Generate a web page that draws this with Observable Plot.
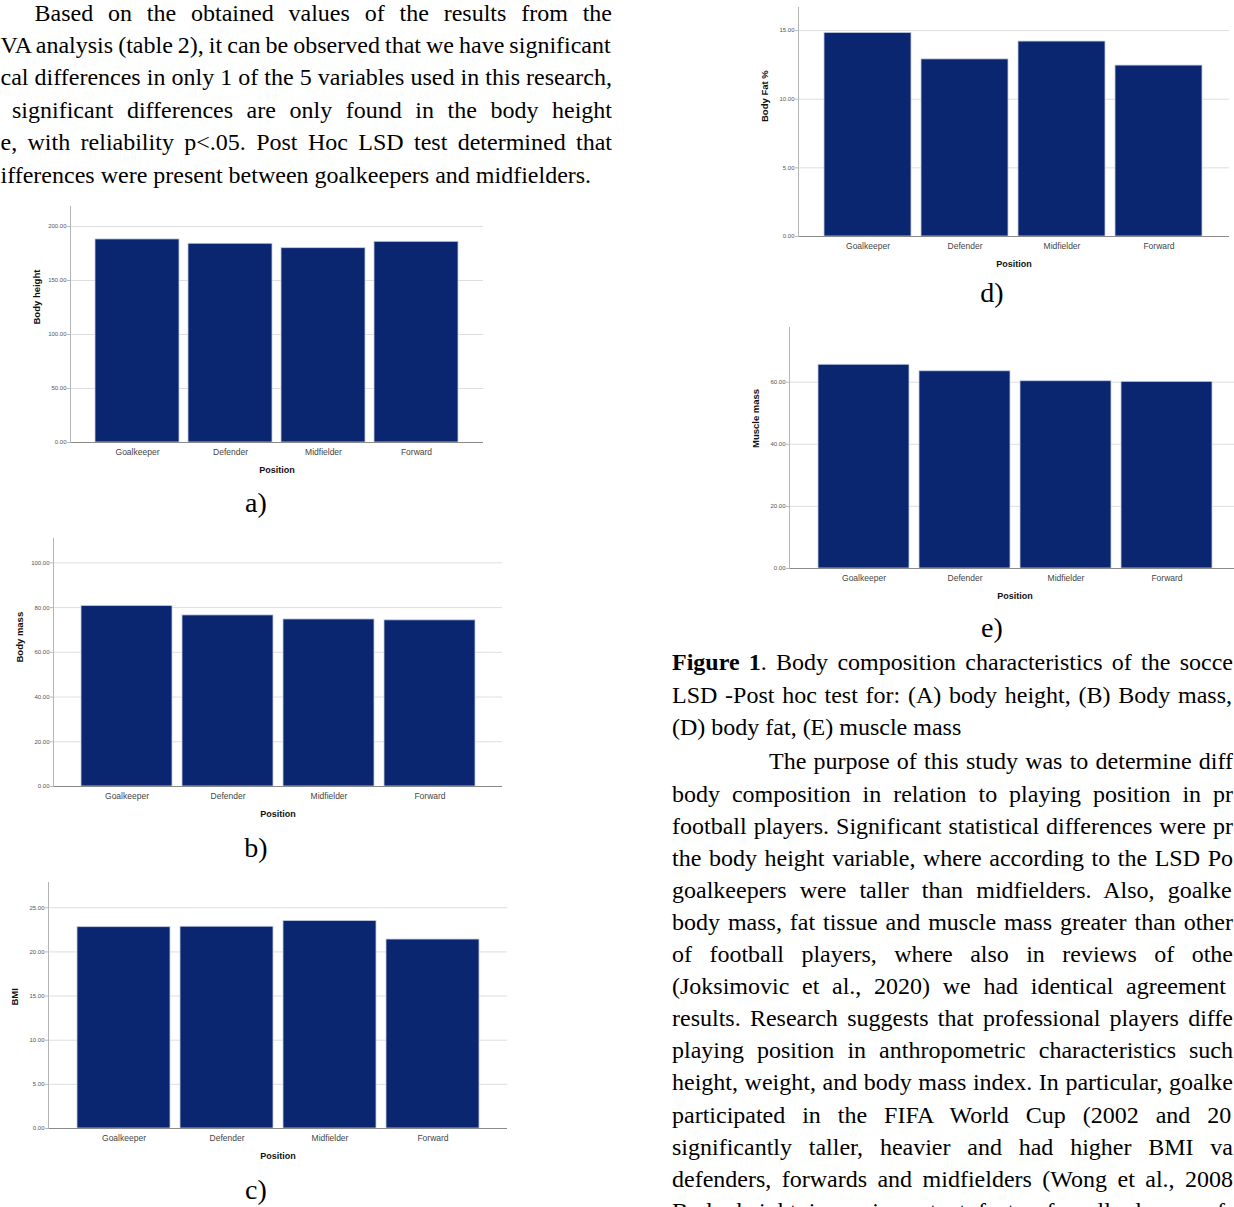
<!DOCTYPE html>
<html><head><meta charset="utf-8">
<script src="https://cdn.jsdelivr.net/npm/d3@7"></script>
<script src="https://cdn.jsdelivr.net/npm/@observablehq/plot@0.6"></script>
<style>
html,body{margin:0;padding:0;background:#fff;}
body{width:1234px;height:1207px;overflow:hidden;position:relative;}
</style></head><body>
<script>
// ---- data ----
const positions = ["Goalkeeper", "Defender", "Midfielder", "Forward"];
const bodyHeight = [188.0, 184.0, 179.9, 185.8];
const bodyMass = [80.7, 76.5, 74.7, 74.3];
const bmi = [22.8, 22.85, 23.5, 21.4];
const bodyFat = [14.83, 12.9, 14.2, 12.45];
const muscleMass = [65.6, 63.5, 60.3, 60.1];
const heightTicks = [0, 50, 100, 150, 200];
const massTicks = [0, 20, 40, 60, 80, 100];
const bmiTicks = [0, 5, 10, 15, 20, 25];
const fatTicks = [0, 5, 10, 15];
const muscleTicks = [0, 20, 40, 60];
const yLabels = ["Body height", "Body mass", "BMI", "Body Fat %", "Muscle mass"];
const xLabel = "Position";
const panelLabels = ["a)", "b)", "c)", "d)", "e)"];

// ---- document text (visible part of the page scan) ----
const serif = "'Liberation Serif', 'Times New Roman', serif";
const FS = 24;
const ctx = document.createElement("canvas").getContext("2d");
function tw(str, bold) { ctx.font = (bold ? "bold " : "") + FS + "px 'Liberation Serif'"; return ctx.measureText(str).width; }
function spaces(s) { return (s.match(/ /g) || []).length; }

const docSvg = d3.select("body").append("svg")
  .attr("width", 1234).attr("height", 1207)
  .style("position", "absolute").style("left", "0px").style("top", "0px");

function drawLine(spec) {
  const vis = spec.parts.map(p => p[0]).join("");
  const natural = spec.parts.reduce((a, p) => a + tw(p[0], p[1]), 0);
  let ws = 0;
  if (spec.end != null) ws = (spec.end - spec.x - natural) / spaces(vis);
  else if (spec.ws != null) ws = spec.ws;
  const t = docSvg.append("text").attr("x", spec.x).attr("y", spec.y)
    .style("font-family", serif).style("font-size", FS + "px").style("word-spacing", ws + "px")
    .attr("fill", "#000");
  spec.parts.forEach(p => {
    t.append("tspan").text(p[0]).style("font-weight", p[1] ? "bold" : "normal");
  });
}

const leftLines = [
  {x: 34.5, parts: [["Based on the obtained values of the results from the"]], end: 612},
  {x: 0.5, parts: [["VA analysis (table 2), it can be observed that we have significant"]], end: 612},
  {x: 0.5, parts: [["cal differences in only 1 of the 5 variables used in this research,"]], end: 612},
  {x: 12, parts: [["significant differences are only found in the body height"]], end: 612},
  {x: 0.5, parts: [["e, with reliability p<.05. Post Hoc LSD test determined that"]], end: 612},
  {x: 0.5, parts: [["ifferences were present between goalkeepers and midfielders."]], ws: 0}
];
leftLines.forEach((l, i) => drawLine({...l, y: 20.6 + i * 32.4}));

const capLines = [
  {parts: [["Figure 1", true], [". Body composition characteristics of the socce"]], end: 1233},
  {parts: [["LSD -Post hoc test for: (A) body height, (B) Body mass,"]], end: 1232},
  {parts: [["(D) body fat, (E) muscle mass"]], ws: 0}
];
capLines.forEach((l, i) => drawLine({...l, x: 672, y: 670.1 + i * 32.4}));

const bodyLines = [
  {x: 769, parts: [["The purpose of this study was to determine diff"]], end: 1233},
  {parts: [["body composition in relation to playing position in pr"]], end: 1233},
  {parts: [["football players. Significant statistical differences were pr"]], end: 1233},
  {parts: [["the body height variable, where according to the LSD Po"]], end: 1233},
  {parts: [["goalkeepers were taller than midfielders. Also, goalke"]], end: 1233},
  {parts: [["body mass, fat tissue and muscle mass greater than other"]], end: 1233},
  {parts: [["of football players, where also in reviews of othe"]], end: 1233},
  {parts: [["(Joksimovic et al., 2020) we had identical agreement"]], end: 1226},
  {parts: [["results. Research suggests that professional players diffe"]], end: 1233},
  {parts: [["playing position in anthropometric characteristics such"]], end: 1233},
  {parts: [["height, weight, and body mass index. In particular, goalke"]], end: 1233},
  {parts: [["participated in the FIFA World Cup (2002 and 20"]], end: 1233},
  {parts: [["significantly taller, heavier and had higher BMI va"]], end: 1233},
  {parts: [["defenders, forwards and midfielders (Wong et al., 2008"]], end: 1233},
  {parts: [["Body height is an important factor for all players of"]], end: 1225}
];
bodyLines.forEach((l, i) => drawLine({x: 672, ...l, y: 769.4 + i * 32.1}));

// panel labels
const labelPos = [[256, 512], [256, 857], [256, 1199], [992, 302], [992, 637]];
panelLabels.forEach((lab, i) => {
  docSvg.append("text").attr("x", labelPos[i][0]).attr("y", labelPos[i][1])
    .attr("text-anchor", "middle").style("font-family", serif).style("font-size", "28px").text(lab);
});

// ---- charts ----
const series = [bodyHeight, bodyMass, bmi, bodyFat, muscleMass];
const tickSets = [heightTicks, massTicks, bmiTicks, fatTicks, muscleTicks];
const frames = [
  {L: 70, R: 483, T: 206, B: 442, ymax: 218.5},
  {L: 53, R: 502, T: 538, B: 786, ymax: 110.9},
  {L: 48, R: 507, T: 882, B: 1128, ymax: 27.86},
  {L: 798, R: 1229, T: 7, B: 236, ymax: 16.68},
  {L: 789, R: 1240, T: 327, B: 568, ymax: 77.6}
];

frames.forEach((f, k) => {
  const data = positions.map((p, i) => ({position: p, value: series[k][i]}));
  const mL = 60, mR = 10, mT = 10, mB = 40;
  const W = f.R - f.L + mL + mR, H = f.B - f.T + mT + mB;
  const svg = Plot.plot({
    width: W, height: H,
    marginLeft: mL, marginRight: mR, marginTop: mT, marginBottom: mB,
    style: {fontFamily: "'Liberation Sans', Arial, sans-serif", background: "transparent", overflow: "visible"},
    x: {domain: positions, paddingInner: 0.1, paddingOuter: 0.27, label: null},
    y: {domain: [0, f.ymax], label: null},
    marks: [
      Plot.gridY(tickSets[k], {stroke: "#dedede", strokeOpacity: 1}),
      Plot.barY(data, {x: "position", y: "value", fill: "#0a2671", stroke: "#c5cde4", strokeWidth: 0.8}),
      Plot.ruleY([0], {stroke: "#8a8a8a", strokeWidth: 1}),
      Plot.frame({anchor: "left", stroke: "#b5b5b5"}),
      Plot.axisY(tickSets[k], {tickFormat: d3.format(".2f"), tickSize: 3, tickPadding: 1, fontSize: 6, fill: "#555", stroke: "#bbb", label: null}),
      Plot.axisX({tickSize: 0, tickPadding: 6, fontSize: 8.5, fill: "#444", label: null}),
      Plot.text([yLabels[k]], {frameAnchor: "left", dx: -34, rotate: -90, fontWeight: "bold", fontSize: 9.5, fill: "#111"}),
      Plot.text([xLabel], {frameAnchor: "bottom", dy: 30, fontWeight: "bold", fontSize: 9, fill: "#111"})
    ]
  });
  svg.style.position = "absolute";
  svg.style.left = (f.L - mL) + "px";
  svg.style.top = (f.T - mT) + "px";
  document.body.appendChild(svg);
});
</script>
</body></html>
